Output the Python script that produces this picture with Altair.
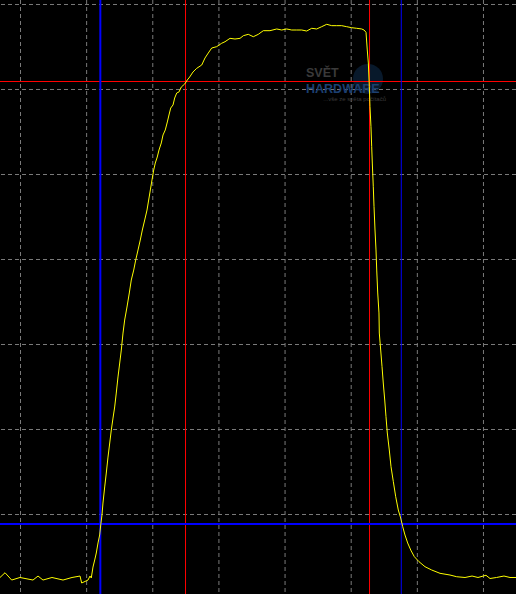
import altair as alt
import pandas as pd

# Oscilloscope capture: time and voltage in screen divisions
t_div = [
    -0.310, -0.234, -0.133, -0.008, 0.189, 0.265, 0.340, 0.476, 0.643, 0.779,
    0.900, 0.925, 1.021, 1.051, 1.070, 1.096, 1.122, 1.146, 1.172, 1.197,
    1.213, 1.232, 1.247, 1.273, 1.297, 1.323, 1.349, 1.373, 1.399, 1.424,
    1.448, 1.474, 1.500, 1.524, 1.550, 1.575, 1.610, 1.645, 1.675, 1.712,
    1.742, 1.777, 1.811, 1.842, 1.878, 1.913, 1.938, 1.963, 1.988, 2.014,
    2.038, 2.068, 2.094, 2.129, 2.155, 2.189, 2.220, 2.245, 2.271, 2.306,
    2.331, 2.362, 2.396, 2.431, 2.483, 2.522, 2.558, 2.608, 2.664, 2.740,
    2.790, 2.839, 2.891, 2.966, 3.042, 3.092, 3.168, 3.243, 3.319, 3.369,
    3.444, 3.520, 3.595, 3.671, 3.772, 3.874, 3.949, 4.025, 4.100, 4.176,
    4.252, 4.327, 4.403, 4.478, 4.554, 4.630, 4.705, 4.781, 4.856, 4.932,
    5.008, 5.083, 5.159, 5.194, 5.224, 5.243, 5.259, 5.274, 5.284, 5.299,
    5.310, 5.319, 5.334, 5.345, 5.360, 5.375, 5.386, 5.401, 5.420, 5.425,
    5.446, 5.466, 5.485, 5.507, 5.526, 5.546, 5.576, 5.602, 5.637, 5.673,
    5.712, 5.748, 5.779, 5.813, 5.854, 5.900, 5.954, 6.025, 6.116, 6.217,
    6.343, 6.494, 6.595, 6.721, 6.827, 6.917, 7.038, 7.099, 7.197, 7.310,
    7.401, 7.492,
]
v_div = [
    -0.741, -0.685, -0.771, -0.741, -0.771, -0.724, -0.771, -0.741, -0.771, -0.741,
    -0.724, -0.806, -0.771, -0.724, -0.747, -0.618, -0.535, -0.453, -0.335, -0.241,
    -0.124, -0.006, 0.135, 0.324, 0.488, 0.676, 0.841, 0.994, 1.135, 1.265,
    1.429, 1.618, 1.782, 1.935, 2.135, 2.288, 2.441, 2.606, 2.759, 2.876,
    2.994, 3.112, 3.229, 3.347, 3.465, 3.582, 3.700, 3.818, 3.935, 4.053,
    4.135, 4.206, 4.288, 4.371, 4.465, 4.524, 4.618, 4.700, 4.782, 4.818,
    4.900, 4.959, 4.971, 5.029, 5.065, 5.112, 5.147, 5.206, 5.249, 5.288,
    5.371, 5.429, 5.488, 5.504, 5.544, 5.562, 5.602, 5.594, 5.602, 5.633,
    5.649, 5.621, 5.649, 5.692, 5.692, 5.712, 5.700, 5.712, 5.700, 5.700,
    5.700, 5.688, 5.720, 5.712, 5.739, 5.767, 5.751, 5.751, 5.751, 5.739,
    5.727, 5.720, 5.712, 5.700, 5.673, 5.465, 5.312, 5.033, 4.798, 4.562,
    4.327, 4.135, 3.856, 3.621, 3.347, 3.112, 2.876, 2.606, 2.371, 2.135,
    1.935, 1.739, 1.547, 1.347, 1.151, 0.959, 0.759, 0.562, 0.386, 0.209,
    0.053, -0.041, -0.144, -0.241, -0.335, -0.418, -0.496, -0.555, -0.614, -0.653,
    -0.692, -0.712, -0.732, -0.741, -0.724, -0.741, -0.715, -0.753, -0.741, -0.724,
    -0.741, -0.741,
]

# Graticule positions
grid_t = [0, 1, 2, 3, 4, 5, 6, 7]
grid_v = [0, 1, 2, 3, 4, 5, 6]

# Cursors
red_cursor_t = [2.495, 5.277]
red_cursor_v = [5.094]
blue_cursor_t = [1.207]
blue_cursor_t_thin = [5.757]
blue_cursor_v = [-0.112]

# Watermark
wm_labels = ["SVĚT", "HARDWARE", "...vše ze světa počítačů"]
wm_t = [4.317, 4.317, 5.526]
wm_v = [5.147, 4.959, 4.865]
wm_sizes = [12.5, 12.5]
wm_globe_t = [5.254]
wm_globe_v = [5.124]

X_SCALE = alt.Scale(domain=[-0.30995, 7.4917], nice=False, zero=False)
Y_SCALE = alt.Scale(domain=[-0.93529, 6.05294], nice=False, zero=False)

trace = pd.DataFrame({"t": t_div, "v": v_div, "i": range(len(t_div))})

vgrid = alt.Chart(pd.DataFrame({"t": grid_t})).mark_rule(
    color="#7a7a7a", strokeWidth=1, strokeDash=[4, 3]
).encode(x=alt.X("t:Q", scale=X_SCALE, axis=None))

hgrid = alt.Chart(pd.DataFrame({"v": grid_v})).mark_rule(
    color="#7a7a7a", strokeWidth=1, strokeDash=[4, 3]
).encode(y=alt.Y("v:Q", scale=Y_SCALE, axis=None))

globe = alt.Chart(pd.DataFrame({"t": wm_globe_t, "v": wm_globe_v})).mark_circle(
    size=900, color="#12375f", opacity=0.45
).encode(x=alt.X("t:Q", scale=X_SCALE, axis=None), y=alt.Y("v:Q", scale=Y_SCALE, axis=None))

wm_df = pd.DataFrame({"label": wm_labels, "t": wm_t, "v": wm_v})
wm_big = alt.Chart(wm_df.iloc[:2].assign(col=["#3a3a3a", "#1c3f70"])).mark_text(
    font="Liberation Sans", fontWeight="bold", fontSize=wm_sizes[0], align="left",
    baseline="alphabetic"
).encode(
    x=alt.X("t:Q", scale=X_SCALE, axis=None),
    y=alt.Y("v:Q", scale=Y_SCALE, axis=None),
    text="label:N",
    color=alt.Color("col:N", scale=None),
)
wm_small = alt.Chart(wm_df.iloc[2:]).mark_text(
    font="Liberation Sans", fontSize=6, align="right", baseline="alphabetic", color="#3a3a3a"
).encode(
    x=alt.X("t:Q", scale=X_SCALE, axis=None),
    y=alt.Y("v:Q", scale=Y_SCALE, axis=None),
    text="label:N",
)

red_v = alt.Chart(pd.DataFrame({"t": red_cursor_t})).mark_rule(
    color="#ff0000", strokeWidth=1
).encode(x=alt.X("t:Q", scale=X_SCALE, axis=None))
red_h = alt.Chart(pd.DataFrame({"v": red_cursor_v})).mark_rule(
    color="#ff0000", strokeWidth=1
).encode(y=alt.Y("v:Q", scale=Y_SCALE, axis=None))
blue_v = alt.Chart(pd.DataFrame({"t": blue_cursor_t})).mark_rule(
    color="#0000ff", strokeWidth=2
).encode(x=alt.X("t:Q", scale=X_SCALE, axis=None))
blue_v_thin = alt.Chart(pd.DataFrame({"t": blue_cursor_t_thin})).mark_rule(
    color="#0000ff", strokeWidth=1
).encode(x=alt.X("t:Q", scale=X_SCALE, axis=None))
blue_h = alt.Chart(pd.DataFrame({"v": blue_cursor_v})).mark_rule(
    color="#0000ff", strokeWidth=2
).encode(y=alt.Y("v:Q", scale=Y_SCALE, axis=None))

line = alt.Chart(trace).mark_line(color="#ffff00", strokeWidth=1).encode(
    x=alt.X("t:Q", scale=X_SCALE, axis=None),
    y=alt.Y("v:Q", scale=Y_SCALE, axis=None),
    order="i:Q",
)

chart = alt.layer(
    vgrid, hgrid, globe, wm_big, wm_small, red_v, red_h, blue_v, blue_v_thin, blue_h, line
).properties(
    width=516, height=594, background="#000000", padding=0,
    autosize=alt.AutoSizeParams(type="none"),
).configure_view(stroke=None)

chart.save("out.html", embed_options={"renderer": "svg", "actions": False})
